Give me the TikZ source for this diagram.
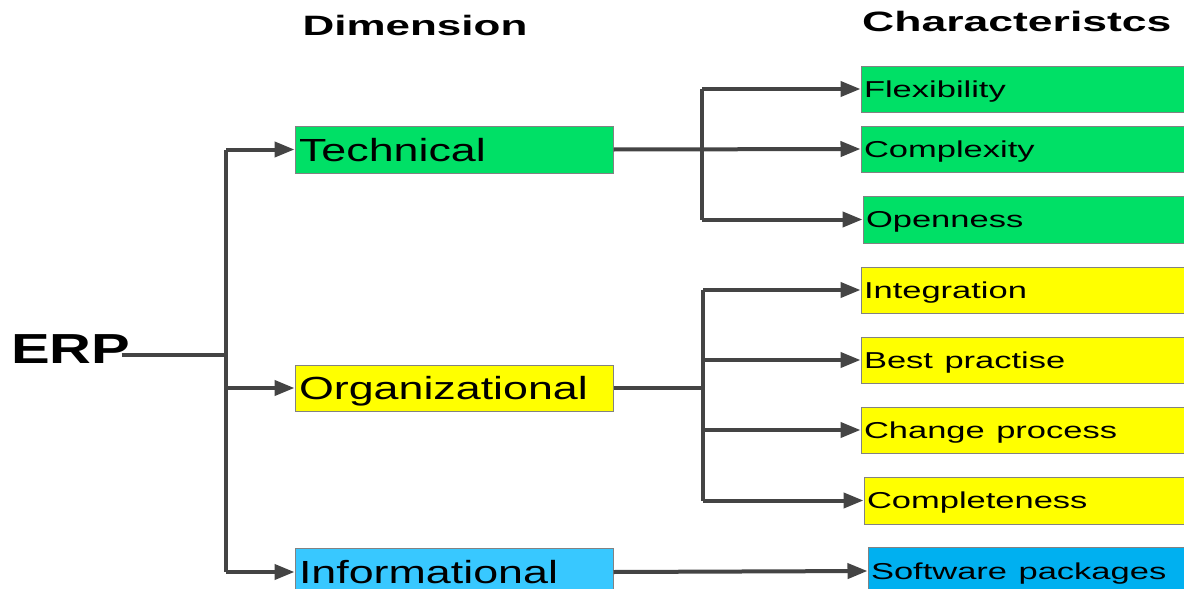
\documentclass[tikz,border=0pt]{standalone}
\usepackage{fontspec}
\setmainfont{Liberation Sans}
\usetikzlibrary{arrows.meta}
\definecolor{techgreen}{RGB}{0,224,102}
\definecolor{orgyellow}{RGB}{255,255,0}
\definecolor{infoblue}{RGB}{56,200,255}
\definecolor{softblue}{RGB}{0,176,240}
\definecolor{linegray}{RGB}{68,68,68}
\definecolor{bordergray}{RGB}{130,130,130}
\newcommand{\dimtxt}[1]{\scalebox{1.40}[1]{#1}}
\newcommand{\chartxt}[1]{\scalebox{1.50}[1]{#1}}
\begin{document}
\begin{tikzpicture}[x=1pt,y=-1pt,
  conn/.style={draw=linegray,line width=4pt},
  arr/.style={conn,-{Triangle[length=20pt,width=15pt]}},
  dimbox/.style={draw=bordergray,line width=1pt,rectangle,minimum width=318pt,minimum height=47pt,
     inner xsep=4pt,inner ysep=0pt,text width=310pt,text height=24pt,text depth=1pt,
     align=left,font=\fontsize{32}{36}\selectfont},
  charbox/.style={draw=bordergray,line width=1pt,rectangle,minimum height=46pt,
     inner xsep=3pt,inner ysep=0pt,text height=20pt,text depth=4pt,
     align=left,font=\fontsize{23}{27}\selectfont},
  header/.style={inner sep=0pt,font=\fontsize{28}{32}\selectfont\bfseries}
]
\clip (0,0) rectangle (1184,589);
\fill[white] (0,0) rectangle (1184,589);

% headers
\node[header] (hdim) at (415,25) {\scalebox{1.57}[1]{Dimension}};
\node[header,anchor=west] (hchar) at (862,21) {\scalebox{1.59}[1]{Characteristcs}};

% root
\node[inner sep=0pt,anchor=west,font=\fontsize{42}{46}\selectfont\bfseries] (erp) at (11,349) {\scalebox{1.38}[1]{ERP}};

% dimension boxes
\node[dimbox,fill=techgreen] (tech) at (454,149.5) {\dimtxt{Technical}};
\node[dimbox,fill=orgyellow,minimum height=46pt] (org) at (454,388) {\dimtxt{Organizational}};
\node[dimbox,fill=infoblue,minimum height=48pt] (info) at (454,572) {\dimtxt{Informational}};

% characteristic boxes
\node[charbox,fill=techgreen,minimum width=329pt,text width=323pt] (flex) at (1025.5,89) {\chartxt{Flexibility}};
\node[charbox,fill=techgreen,minimum width=329pt,text width=323pt] (comp) at (1025.5,149) {\chartxt{Complexity}};
\node[charbox,fill=techgreen,minimum width=327pt,text width=321pt,minimum height=47pt] (open) at (1026.5,219.5) {\chartxt{Openness}};
\node[charbox,fill=orgyellow,minimum width=329pt,text width=323pt] (integ) at (1025.5,290) {\chartxt{Integration}};
\node[charbox,fill=orgyellow,minimum width=329pt,text width=323pt] (best) at (1025.5,360) {\chartxt{Best practise}};
\node[charbox,fill=orgyellow,minimum width=329pt,text width=323pt] (change) at (1025.5,430) {\chartxt{Change process}};
\node[charbox,fill=orgyellow,minimum width=326pt,text width=320pt,minimum height=47pt] (compl) at (1027,500.5) {\chartxt{Completeness}};
\node[charbox,fill=softblue,minimum width=322pt,text width=316pt,minimum height=48pt] (soft) at (1029,571) {\chartxt{Software packages}};

% junction coordinates
\coordinate (j0) at (226,355);
\coordinate (jt) at (702,149);
\coordinate (jo) at (703,388);

% ERP connectors
\draw[conn] ([xshift=-9pt]erp.east |- j0) -- (j0);
\draw[conn] (tech.west -| j0) -- (info.west -| j0);
\draw[arr] (tech.west -| j0) -- (tech.west);
\draw[arr] (org.west -| j0) -- (org.west);
\draw[arr] (info.west -| j0) -- (info.west);

% Technical connectors
\draw[arr] (tech.east) -- (comp.west);
\draw[conn] (flex.west -| jt) -- (open.west -| jt);
\draw[arr] (flex.west -| jt) -- (flex.west);
\draw[arr] (open.west -| jt) -- (open.west);

% Organizational connectors
\draw[conn] (org.east) -- (jo);
\draw[conn] (integ.west -| jo) -- (compl.west -| jo);
\draw[arr] (integ.west -| jo) -- (integ.west);
\draw[arr] (best.west -| jo) -- (best.west);
\draw[arr] (change.west -| jo) -- (change.west);
\draw[arr] (compl.west -| jo) -- (compl.west);

% Informational connector
\draw[arr] (info.east) -- (soft.west);
\end{tikzpicture}
\end{document}
